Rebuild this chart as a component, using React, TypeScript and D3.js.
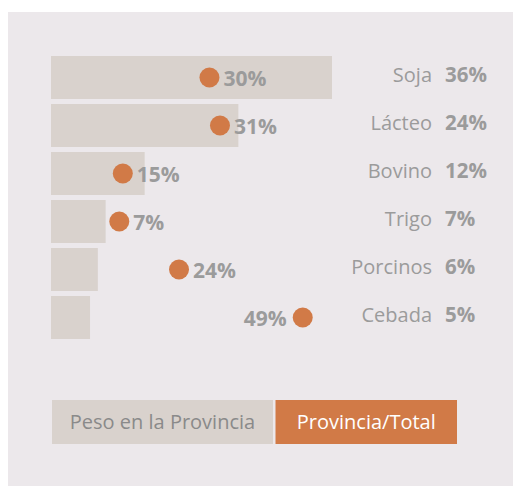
import React from "react";
import * as d3 from "d3";

const categories = ["Soja", "Lácteo", "Bovino", "Trigo", "Porcinos", "Cebada"];
const pesoProvincia = [36, 24, 12, 7, 6, 5];
const provinciaTotal = [30, 31, 15, 7, 24, 49];
// dot positions, in units of the bar axis (%)
const dotPosition = [20.3, 21.65, 9.2, 8.75, 16.4, 32.25];
const labelLeftOf = [false, false, false, false, false, true];
const legendLabels = ["Peso en la Provincia", "Provincia/Total"];

const W = 513;
const H = 486;
const FONT = "'Open Sans', 'Noto Sans', sans-serif";
const BG = "#ece8eb";
const BAR = "#d9d2cd";
const ORANGE = "#d17a47";
const GRAY = "#9b9b9b";

export default function App() {
  const x = d3.scaleLinear().domain([0, 36]).range([51, 332]);
  const y = d3
    .scaleBand<string>()
    .domain(categories)
    .range([53.5, 341.5])
    .paddingInner(5 / 48)
    .paddingOuter(5 / 96);
  const bw = y.bandwidth();

  // legend boxes: gray [52, 273], gap, orange [275.5, 457]
  const legendEdges = [
    [52, 273],
    [275.5, 457],
  ];

  return (
    <svg
      width={W}
      height={H}
      style={{ position: "absolute", left: 0, top: 0 }}
      fontFamily={FONT}
    >
      <rect x={0} y={0} width={W} height={H} fill="#ffffff" />
      <rect x={8} y={12} width={W - 8} height={H - 12} fill={BG} />
      {categories.map((c, i) => {
        const y0 = y(c)!;
        const cy = y0 + bw / 2;
        const dx = x(dotPosition[i]);
        const left = labelLeftOf[i];
        return (
          <g key={c}>
            <rect x={x(0)} y={y0} width={x(pesoProvincia[i]) - x(0)} height={bw} fill={BAR} />
            <circle cx={dx} cy={cy} r={10} fill={ORANGE} />
            <text
              x={left ? dx - 16 : dx + 14}
              y={cy + 8}
              textAnchor={left ? "end" : "start"}
              fontSize={21}
              fontWeight={700}
              fill={GRAY}
            >
              {provinciaTotal[i]}%
            </text>
            <text x={432} y={cy + 4.5} textAnchor="end" fontSize={20} fill={GRAY}>
              {c}
            </text>
            <text x={445} y={cy + 4.5} textAnchor="start" fontSize={20.5} fontWeight={700} fill={GRAY}>
              {pesoProvincia[i]}%
            </text>
          </g>
        );
      })}
      {legendLabels.map((l, i) => {
        const [a, b] = legendEdges[i];
        const isOrange = i === 1;
        return (
          <g key={l}>
            <rect x={a} y={400} width={b - a} height={44} fill={isOrange ? ORANGE : BAR} />
            <text
              x={(a + b) / 2}
              y={429}
              textAnchor="middle"
              fontSize={20}
              fill={isOrange ? "#ffffff" : "#8a8a8a"}
            >
              {l}
            </text>
          </g>
        );
      })}
    </svg>
  );
}
